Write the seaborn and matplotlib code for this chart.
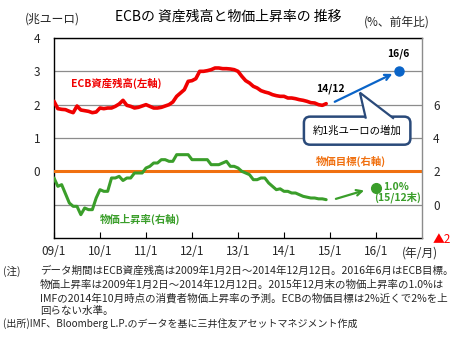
import numpy as np
import pandas as pd
import matplotlib
matplotlib.use("Agg")
import matplotlib.pyplot as plt
from matplotlib.patches import Polygon
import seaborn as sns

# ---------------- data ----------------
months = pd.date_range("2009-01-01", "2014-12-01", freq="MS")

ecb_assets = [  # trillion euro, left axis
    2.10, 1.88, 1.86, 1.85, 1.80, 1.76, 1.96, 1.84, 1.82, 1.80, 1.76, 1.78,
    1.90, 1.88, 1.90, 1.90, 1.95, 2.02, 2.13, 1.98, 1.95, 1.90, 1.92, 1.96,
    2.00, 1.95, 1.90, 1.90, 1.92, 1.96, 2.00, 2.08, 2.25, 2.35, 2.45, 2.70,
    2.72, 2.78, 3.00, 3.00, 3.02, 3.05, 3.10, 3.10, 3.08, 3.08, 3.07, 3.05,
    3.00, 2.85, 2.72, 2.65, 2.55, 2.50, 2.42, 2.38, 2.35, 2.30, 2.27, 2.25,
    2.25, 2.20, 2.20, 2.18, 2.15, 2.13, 2.10, 2.06, 2.05, 2.00, 1.98, 2.03,
]
inflation = [  # % y/y, right axis
    1.6, 1.1, 1.2, 0.65, 0.1, -0.1, -0.1, -0.6, -0.2, -0.3, -0.3, 0.4,
    0.9, 0.8, 0.8, 1.6, 1.6, 1.7, 1.45, 1.6, 1.6, 1.9, 1.9, 1.9,
    2.2, 2.3, 2.5, 2.5, 2.7, 2.7, 2.6, 2.6, 3.0, 3.0, 3.0, 3.0,
    2.7, 2.7, 2.7, 2.7, 2.7, 2.4, 2.4, 2.4, 2.5, 2.6, 2.3, 2.3,
    2.2, 2.0, 1.9, 1.8, 1.5, 1.5, 1.6, 1.6, 1.3, 1.1, 0.9, 0.95,
    0.8, 0.8, 0.7, 0.7, 0.6, 0.5, 0.45, 0.4, 0.4, 0.35, 0.35, 0.3,
]
inflation_target = 2.0
ecb_end = (2014 + 11.5 / 12, 2.05)        # 14/12
ecb_goal = (2016.5, 3.0)                  # 16/6
infl_forecast = (2016.0, 1.0)             # 15/12 end

x_years = list(range(2009, 2017))
x_labels = ["09/1", "10/1", "11/1", "12/1", "13/1", "14/1", "15/1", "16/1"]
left_ticks = [-1, 0, 1, 2, 3, 4]
left_labels = ["", "0", "1", "2", "3", "4"]
right_ticks = [-2, 0, 2, 4, 6]
right_labels = ["▲2", "0", "2", "4", "6"]

# ---------------- style ----------------
sns.set_theme(style="white")
plt.rcParams["font.family"] = ["Noto Sans CJK JP", "DejaVu Sans"]

RED = "#f00000"
GREEN = "#3a9e2a"
ORANGE = "#f07010"
BLUE = "#0a64c8"
NAVY = "#2a4a7a"

t = months.year + (months.month - 1) / 12.0
df = pd.DataFrame({"t": t, "ecb": ecb_assets, "cpi": inflation})

W, H = 461, 342
fig = plt.figure(figsize=(W / 100, H / 100), dpi=100)
ax = fig.add_axes([54 / W, 1 - 238 / H, (422 - 54) / W, (238 - 38) / H])
ax2 = ax.twinx()

# left axis
ax.set_xlim(2009, 2017)
ax.set_ylim(-2, 4)
ax.set_yticks(left_ticks)
ax.set_yticklabels(left_labels)
ax.set_xticks(x_years)
ax.set_xticklabels(x_labels)
ax.yaxis.grid(True, color="#8c8c8c", lw=0.9)
ax.xaxis.grid(False)
ax.tick_params(axis="y", length=0, pad=10, labelsize=8.5)
ax.tick_params(axis="x", direction="in", length=4, width=0.8, color="black",
               pad=5, labelsize=8.5, bottom=True)
for s in ["left", "bottom", "top"]:
    ax.spines[s].set_color("black")
    ax.spines[s].set_linewidth(1.0)
ax.spines["right"].set_visible(False)

# right axis
ax2.set_ylim(-2, 10)
ax2.set_yticks(right_ticks)
ax2.set_yticklabels(right_labels)
ax2.tick_params(axis="y", length=0, pad=8, labelsize=8.5)
ax2.get_yticklabels()[0].set_color("red")
for s in ["left", "bottom", "top"]:
    ax2.spines[s].set_visible(False)
ax2.spines["right"].set_color("#8c8c8c")
ax2.spines["right"].set_linewidth(1.0)
ax2.grid(False)

# lines
sns.lineplot(data=df, x="t", y="ecb", ax=ax, color=RED, lw=2.6, zorder=3)
ax2.axhline(inflation_target, color=ORANGE, lw=2.2, zorder=2)
sns.lineplot(data=df, x="t", y="cpi", ax=ax2, color=GREEN, lw=2.2, zorder=3)
ax.set_xlabel("")
ax.set_ylabel("")
ax2.set_ylabel("")

# blue arrow + dot
ax.annotate("", xy=(ecb_goal[0] - 0.09, ecb_goal[1] - 0.04),
            xytext=(ecb_end[0] + 0.09, ecb_end[1]),
            arrowprops=dict(arrowstyle="->", color=BLUE, lw=1.6,
                            mutation_scale=10), zorder=5)
ax.plot([ecb_goal[0]], [ecb_goal[1]], "o", color=BLUE, ms=6.5, zorder=6)
ax.text(2015.0, 2.48, "14/12", ha="center", va="center", fontsize=7.5,
        fontweight="bold", color="black")
ax.text(2016.48, 3.52, "16/6", ha="center", va="center", fontsize=7.5,
        fontweight="bold", color="black")

# callout
tail = Polygon([(2015.78, 1.58), (2015.65, 2.36), (2016.39, 1.58)],
               closed=False, facecolor="white", edgecolor=NAVY, lw=1.6,
               zorder=8)
ax.text(2015.59, 1.22, "約1兆ユーロの増加", ha="center", va="center",
        fontsize=7.5, color="black", zorder=7,
        bbox=dict(boxstyle="round,pad=0.85,rounding_size=0.6",
                  facecolor="white", edgecolor=NAVY, lw=1.8))
ax.add_patch(tail)

# green arrow + dot
ax2.annotate("", xy=(2015.8, 0.9), xytext=(2015.07, 0.3),
             arrowprops=dict(arrowstyle="->", color=GREEN, lw=1.6,
                             mutation_scale=10), zorder=5)
ax2.plot([infl_forecast[0]], [infl_forecast[1]], "o", color=GREEN, ms=7,
         zorder=6)
ax2.text(2016.15, 1.08, "1.0%", ha="left", va="center", fontsize=7.5,
         fontweight="bold", color=GREEN)
ax2.text(2015.95, 0.45, "(15/12末)", ha="left", va="center", fontsize=7.5,
         fontweight="bold", color=GREEN)

# series labels
ax.text(2009.37, 2.63, "ECB資産残高(左軸)", ha="left", va="center",
        fontsize=7.5, fontweight="bold", color=RED)
ax.text(2010.0, -1.43, "物価上昇率(右軸)", ha="left", va="center",
        fontsize=7.5, fontweight="bold", color=GREEN)
ax.text(2014.7, 0.30, "物価目標(右軸)", ha="left", va="center",
        fontsize=7.5, fontweight="bold", color=ORANGE)

# titles / units
def ft(x, y, s, **kw):
    fig.text(x / W, 1 - y / H, s, **kw)

ft(228, 17, "ECBの 資産残高と物価上昇率の 推移", ha="center", va="center",
   fontsize=10, color="black")
ft(52, 19, "(兆ユーロ)", ha="center", va="center", fontsize=8.5)
ft(397, 22, "(%、前年比)", ha="center", va="center", fontsize=8.5)
ft(420, 253, "(年/月)", ha="center", va="center", fontsize=8.5)

# footnotes
fs = 7.55
ft(3, 271, "(注)", ha="left", va="center", fontsize=fs)
ft(40, 271, "データ期間はECB資産残高は2009年1月2日～2014年12月12日。2016年6月はECB目標。",
   ha="left", va="center", fontsize=fs)
ft(40, 285, "物価上昇率は2009年1月2日～2014年12月12日。2015年12月末の物価上昇率の1.0%は",
   ha="left", va="center", fontsize=fs)
ft(40, 298, "IMFの2014年10月時点の消費者物価上昇率の予測。ECBの物価目標は2%近くで2%を上",
   ha="left", va="center", fontsize=fs)
ft(40, 311, "回らない水準。", ha="left", va="center", fontsize=fs)
ft(3, 324, "(出所)IMF、Bloomberg L.P.のデータを基に三井住友アセットマネジメント作成",
   ha="left", va="center", fontsize=7.2)

fig.savefig("out.png", dpi=100)
